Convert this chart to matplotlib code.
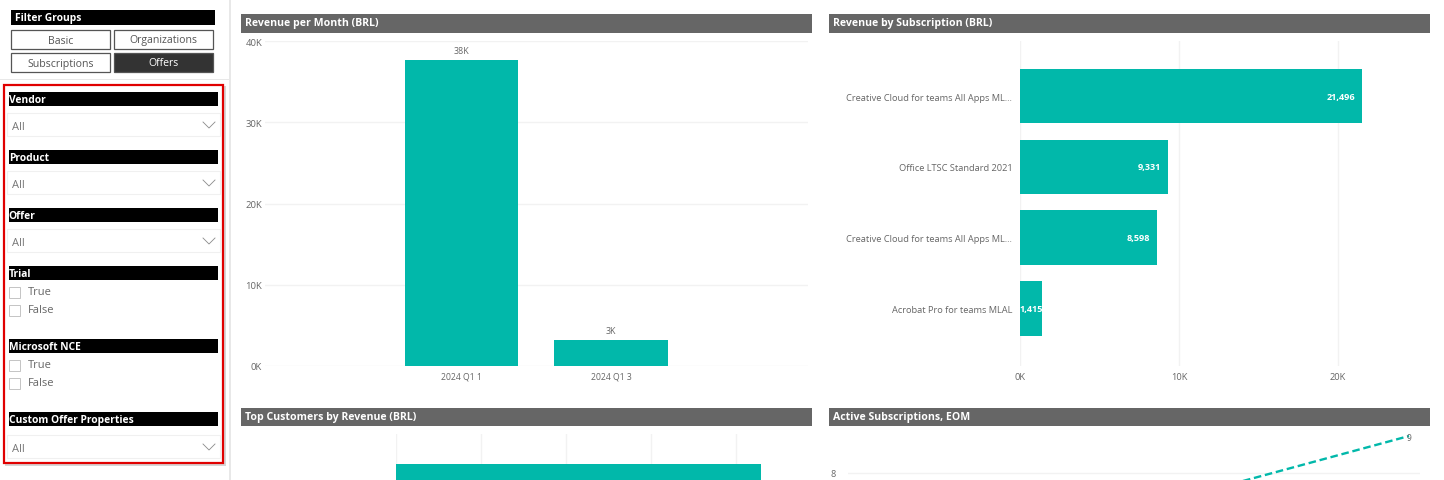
import matplotlib
matplotlib.use("Agg")
import matplotlib.pyplot as plt
from matplotlib.patches import Rectangle

plt.rcParams['font.family'] = ['Open Sans', 'DejaVu Sans']

W, H = 1444, 481
TEAL = '#01B8AA'
GRID = '#F2F2F2'
LABEL = '#666666'

# ---- data ----
month_labels = ['2024 Q1 1', '2024 Q1 3']
month_values = [37660, 3180]
month_text = ['38K', '3K']
month_ticks = [0, 10000, 20000, 30000, 40000]
month_ticklabels = ['0K', '10K', '20K', '30K', '40K']

sub_labels = ['Creative Cloud for teams All Apps ML...', 'Office LTSC Standard 2021',
              'Creative Cloud for teams All Apps ML...', 'Acrobat Pro for teams MLAL']
sub_values = [21496, 9331, 8598, 1415]
sub_ticks = [0, 10000, 20000]
sub_ticklabels = ['0K', '10K', '20K']

cust_values = [21496]
cust_ticks = [0, 5000, 10000, 15000, 20000]

active_x = [0, 1]
active_values = [7, 9]

buttons = [('Basic', 11, 30, False), ('Organizations', 114, 30, False),
           ('Subscriptions', 11, 53, False), ('Offers', 114, 53, True)]
slicer_bars = [('Vendor', 92), ('Product', 150), ('Offer', 208), ('Trial', 266),
               ('Microsoft NCE', 339), ('Custom Offer Properties', 412)]
dropdown_tops = [113, 171, 229, 435]
checkbox_rows = [('True', 292), ('False', 310), ('True', 365), ('False', 383)]
headers = [('Revenue per Month (BRL)', 241, 14, 571), ('Revenue by Subscription (BRL)', 829, 14, 601),
           ('Top Customers by Revenue (BRL)', 241, 408, 571), ('Active Subscriptions, EOM', 829, 408, 601)]


def px_axes(x0, y0, x1, y1):
    """Axes placed from pixel box (y measured from the top, with a one pixel settle)."""
    return fig.add_axes([x0 / W, 1 - (y1 + 1) / H, (x1 - x0) / W, (y1 - y0) / H])


def clean(ax):
    ax.patch.set_alpha(0)
    for s in ax.spines.values():
        s.set_visible(False)


fig = plt.figure(figsize=(W / 100, H / 100), dpi=100, facecolor='white')

# ---- page chrome, drawn in pixel coordinates ----
bg = fig.add_axes([0, 0, 1, 1])
bg.set_xlim(0, W)
bg.set_ylim(H - 1, -1)
bg.axis('off')


def rect(x, y, w, h, fc='none', ec='none', lw=0, z=1):
    bg.add_patch(Rectangle((x, y), w, h, facecolor=fc, edgecolor=ec, linewidth=lw, zorder=z))


rect(229, -1, 1.5, H + 1, fc='#E8E8E8')
rect(0, 78.5, 229, 1.5, fc='#E8E8E8')
rect(11, 10, 204, 15, fc='black')
bg.text(15, 18, 'Filter Groups', color='white', fontsize=7.4, fontweight='bold', va='center')
for name, x, y, active in buttons:
    rect(x, y, 99, 19, fc='#333333' if active else 'white', ec='#555555', lw=0.9)
    bg.text(x + 49.5, y + 10, name, color='white' if active else '#555555', fontsize=7.6,
            ha='center', va='center')

# red slicer panel with its shadow
rect(5, 86, 221, 380, fc='#D6D6D6', z=1)
rect(4, 85, 219, 378, fc='white', ec='#E00000', lw=1.6, z=2)
for name, y in slicer_bars:
    rect(9, y, 209, 14, fc='black', z=3)
    bg.text(8.8, y + 7.5, name, color='white', fontsize=7.4, fontweight='bold', va='center', zorder=4)
for y in dropdown_tops:
    rect(7, y, 213, 23, fc='white', ec='#F0F0F0', lw=0.8, z=3)
    bg.text(12, y + 13.5, 'All', color='#777777', fontsize=8, va='center', zorder=4)
    bg.plot([203, 209, 215], [y + 9, y + 15, y + 9], color='#8A8A8A', lw=0.6, zorder=4)
for name, y in checkbox_rows:
    rect(9, y - 5.5, 11, 11, fc='white', ec='#C4C4C4', lw=0.7, z=3)
    bg.text(28, y, name, color='#666666', fontsize=8, va='center', zorder=4)

for title, x, y, w in headers:
    rect(x, y, w, 19 if y < 100 else 18, fc='#666666')
    bg.text(x + 4, y + 8.5, title, color='white', fontsize=7.55, fontweight='bold', va='center')

# ---- Revenue per Month ----
ax1 = px_axes(265, 41, 808, 366)
clean(ax1)
step = 149.5
ax1.set_xlim(-(461.5 - 265) / step, (808 - 461.5) / step)
ax1.set_ylim(0, 40000)
ax1.bar(range(len(month_values)), month_values, width=0.757, color=TEAL, zorder=3)
ax1.set_yticks(month_ticks, month_ticklabels)
ax1.set_xticks(range(len(month_labels)), month_labels)
ax1.grid(axis='y', color=GRID, lw=1)
ax1.set_axisbelow(True)
ax1.tick_params(length=0, labelsize=6.8, labelcolor=LABEL, pad=2)
ax1.tick_params(axis='x', pad=4, labelsize=6.2)
for i, (v, t) in enumerate(zip(month_values, month_text)):
    ax1.annotate(t, (i, v), xytext=(0, 5), textcoords='offset pixels', ha='center', va='bottom',
                 fontsize=6.4, color=LABEL)

# ---- Revenue by Subscription ----
ax2 = px_axes(1020, 41, 1420, 366)
clean(ax2)
ax2.set_xlim(0, 400 / 15.9 * 1000)
sub_pos = list(range(len(sub_values)))
ax2.set_ylim(3 + (366 - 308.5) / 70.6, -(96 - 41) / 70.6)
ax2.barh(sub_pos, sub_values, height=0.772, color=TEAL, zorder=3)
ax2.set_yticks(sub_pos, sub_labels)
ax2.set_xticks(sub_ticks, sub_ticklabels)
ax2.grid(axis='x', color=GRID, lw=1)
ax2.set_axisbelow(True)
ax2.tick_params(length=0, labelsize=6.7, labelcolor=LABEL)
ax2.tick_params(axis='y', pad=5.5)
ax2.tick_params(axis='x', pad=4)
for i, v in enumerate(sub_values):
    ax2.annotate(f'{v:,}', (v, i), xytext=(-7 if v > 2000 else 0, 0), textcoords='offset pixels',
                 ha='right', va='center', fontsize=6.6, color='white', fontweight='bold', zorder=5)

# ---- Top Customers ----
ax3 = px_axes(395.5, 434, 808, 481)
clean(ax3)
ax3.set_xlim(0, 412.5 / 17 * 1000)
ax3.set_ylim(1, -1.1)
ax3.barh([1], cust_values, height=1.5, color=TEAL, zorder=3)
ax3.set_xticks(cust_ticks, [''] * len(cust_ticks))
ax3.set_yticks([])
ax3.grid(axis='x', color=GRID, lw=1)
ax3.set_axisbelow(True)
ax3.tick_params(length=0)

# ---- Active Subscriptions ----
ax4 = px_axes(848, 430, 1420, 540)
clean(ax4)
line_step = 273
ax4.set_xlim(-(1136 - 848) / line_step, 1 + (1420 - 1409) / line_step)
ax4.set_ylim(8 - (540 - 473) / 37, 8 + (473 - 430) / 37)
ax4.plot(active_x, active_values, color=TEAL, lw=1.7, dashes=(3.2, 1.6), zorder=3)
ax4.set_yticks([8], ['8'])
ax4.set_xticks([])
ax4.grid(axis='y', color=GRID, lw=1)
ax4.set_axisbelow(True)
ax4.tick_params(length=0, labelsize=6.6, labelcolor=LABEL, pad=9)
ax4.annotate('9', (active_x[-1], active_values[-1]), xytext=(0, -2), textcoords='offset pixels',
             ha='center', va='center', fontsize=6.2, color=LABEL)

fig.savefig('out.png', dpi=100)
